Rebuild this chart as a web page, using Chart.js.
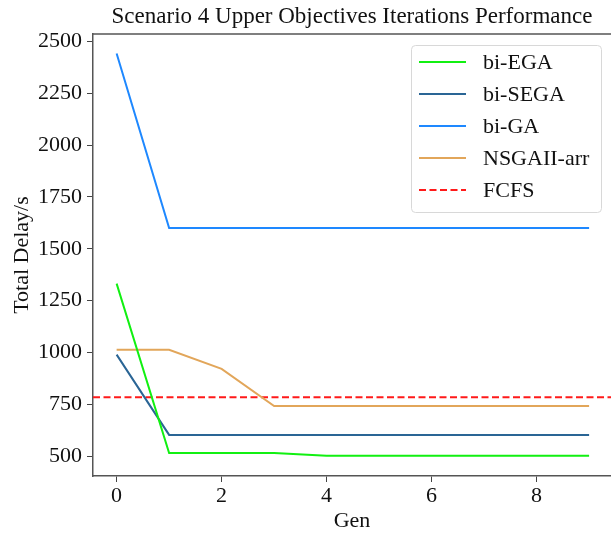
<!DOCTYPE html>
<html lang="en">
<head>
    <meta charset="UTF-8">
    <title>Scenario 4 Upper Objectives Iterations Performance</title>
    <script src="https://cdn.jsdelivr.net/npm/chart.js"></script>
    <style>
        html, body {
            margin: 0;
            padding: 0;
            background: #fff;
        }
        canvas {
            display: block;
        }
    </style>
</head>
<body>
    <canvas id="grafica" width="611" height="534"></canvas>

    <script>
        // datos
        const gens = [0, 1, 2, 3, 4, 5, 6, 7, 8, 9];
        const biEGA = [1332, 516, 516, 516, 502, 502, 502, 502, 502, 502];
        const biSEGA = [990, 603, 603, 603, 603, 603, 603, 603, 603, 603];
        const biGA = [2441, 1600, 1600, 1600, 1600, 1600, 1600, 1600, 1600, 1600];
        const nsgaArr = [1013, 1013, 921, 742, 742, 742, 742, 742, 742, 742];
        const fcfs = 784;

        const xTicks = [0, 2, 4, 6, 8];
        const yTicks = [500, 750, 1000, 1250, 1500, 1750, 2000, 2250, 2500];

        const serif = "'Liberation Serif', 'DejaVu Serif', serif";

        function puntos(arr) {
            return arr.map((v, i) => ({ x: gens[i], y: v }));
        }

        // marco superior (el derecho queda fuera de la imagen)
        const marco = {
            id: 'marco',
            afterDatasetsDraw(chart) {
                const a = chart.chartArea;
                const c = chart.ctx;
                c.save();
                c.strokeStyle = '#555';
                c.lineWidth = 1.5;
                c.beginPath();
                c.moveTo(a.left, a.top);
                c.lineTo(a.right, a.top);
                c.stroke();
                c.restore();
            }
        };

        // leyenda dentro del area del grafico
        const leyenda = {
            id: 'leyenda',
            afterDraw(chart) {
                const c = chart.ctx;
                const x0 = 411, y0 = 45, w = 190, h = 167;
                c.save();
                c.fillStyle = 'rgba(255,255,255,0.85)';
                c.strokeStyle = '#d8d8d8';
                c.lineWidth = 1;
                c.beginPath();
                c.roundRect(x0 + 0.5, y0 + 0.5, w, h, 4);
                c.fill();
                c.stroke();
                c.font = '22px ' + serif;
                c.textBaseline = 'middle';
                chart.data.datasets.forEach((ds, i) => {
                    const y = 62 + i * 32;
                    c.strokeStyle = ds.borderColor;
                    c.lineWidth = 2;
                    c.setLineDash(ds.borderDash || []);
                    c.beginPath();
                    c.moveTo(419, y);
                    c.lineTo(466, y);
                    c.stroke();
                    c.setLineDash([]);
                    c.fillStyle = '#111';
                    c.fillText(ds.label, 483, y + 1);
                });
                c.restore();
            }
        };

        const ctx = document.getElementById('grafica').getContext('2d');
        const grafica = new Chart(ctx, {
            type: 'line',
            data: {
                datasets: [
                    { label: 'bi-EGA', data: puntos(biEGA), borderColor: '#11f011' },
                    { label: 'bi-SEGA', data: puntos(biSEGA), borderColor: '#2a6595' },
                    { label: 'bi-GA', data: puntos(biGA), borderColor: '#1e88ff' },
                    { label: 'NSGAII-arr', data: puntos(nsgaArr), borderColor: '#e2a65a' },
                    {
                        label: 'FCFS',
                        data: [{ x: -0.45, y: fcfs }, { x: 9.45, y: fcfs }],
                        borderColor: '#ff1a1a',
                        borderDash: [7, 3.5]
                    }
                ]
            },
            options: {
                responsive: false,
                animation: false,
                devicePixelRatio: 1,
                layout: { padding: { left: 9, right: 0, top: 0, bottom: 0 } },
                elements: {
                    line: { borderWidth: 2, tension: 0, fill: false },
                    point: { radius: 0 }
                },
                plugins: {
                    legend: { display: false },
                    tooltip: { enabled: false },
                    title: {
                        display: true,
                        fullSize: false,
                        text: 'Scenario 4 Upper Objectives Iterations Performance',
                        color: '#111',
                        font: { family: serif, size: 23, weight: 'normal' },
                        padding: { top: 3, bottom: 3.4 }
                    }
                },
                scales: {
                    x: {
                        type: 'linear',
                        min: -0.45,
                        max: 9.417,
                        afterBuildTicks: s => { s.ticks = xTicks.map(v => ({ value: v })); },
                        afterFit: s => { s.height = 58; },
                        grid: { drawOnChartArea: false, drawTicks: true, tickLength: 6, tickColor: '#444', tickWidth: 1 },
                        border: { display: true, color: '#555', width: 1.5 },
                        ticks: { color: '#111', font: { family: serif, size: 22 }, padding: 1, maxRotation: 0, callback: v => String(v) },
                        title: {
                            display: true, text: 'Gen', color: '#111',
                            font: { family: serif, size: 22 }, padding: { top: 0, bottom: 0 }
                        }
                    },
                    y: {
                        type: 'linear',
                        min: 405,
                        max: 2535,
                        afterBuildTicks: s => { s.ticks = yTicks.map(v => ({ value: v })); },
                        afterFit: s => { s.width = 84; },
                        grid: { drawOnChartArea: false, drawTicks: true, tickLength: 6, tickColor: '#444', tickWidth: 1 },
                        border: { display: true, color: '#555', width: 1.5 },
                        ticks: { color: '#111', font: { family: serif, size: 22 }, padding: 5, callback: v => String(v) },
                        title: {
                            display: true, text: 'Total Delay/s', color: '#111',
                            font: { family: serif, size: 22 }, padding: { top: 0, bottom: 0 }
                        }
                    }
                }
            },
            plugins: [marco, leyenda]
        });
    </script>
</body>
</html>
